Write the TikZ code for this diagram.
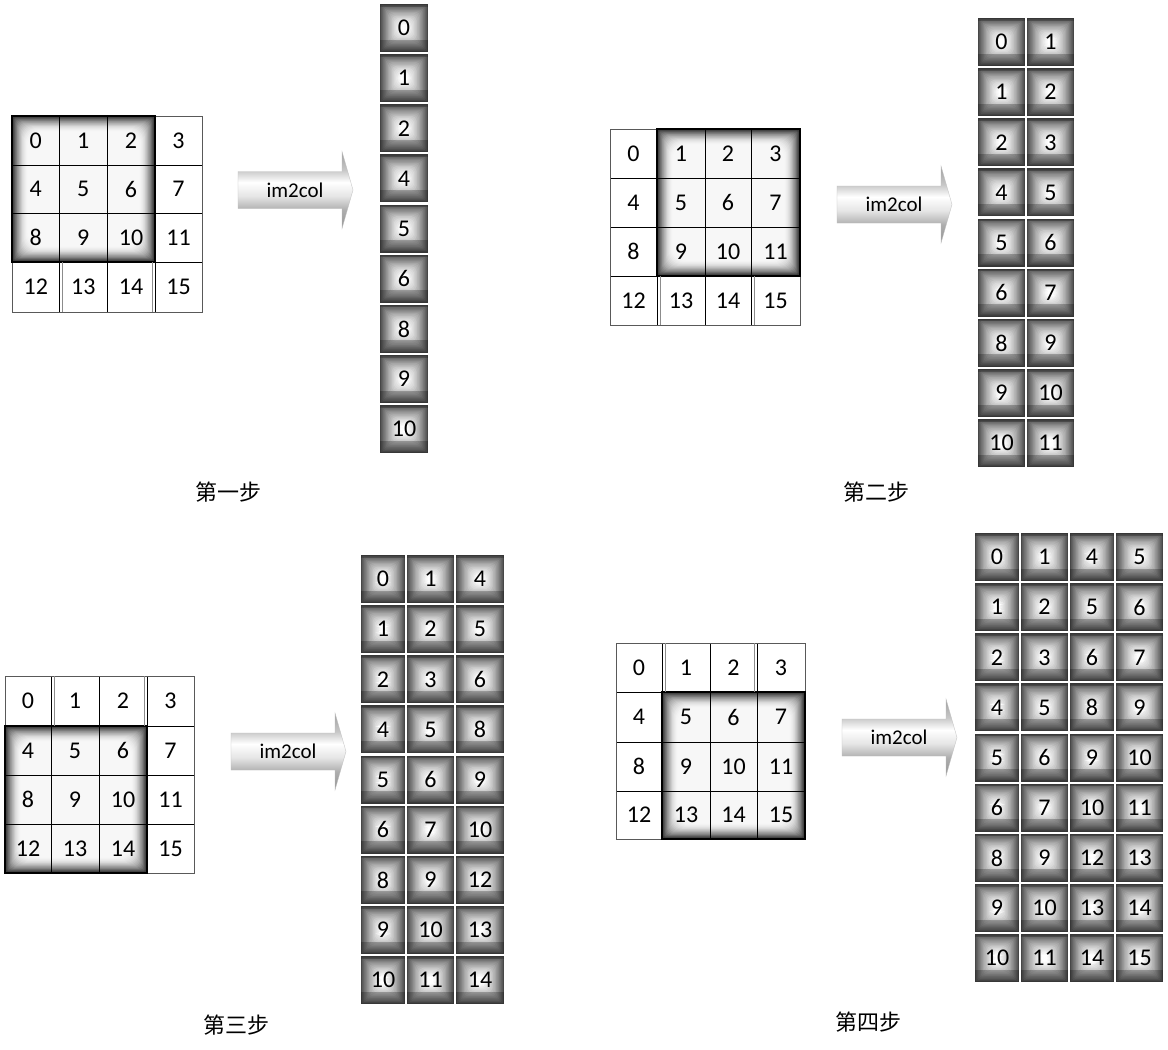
\documentclass[tikz,border=0pt]{standalone}
\usepackage{fontspec}
\newfontfamily\numfont{Carlito}
\newfontfamily\cjk{Noto Sans CJK SC}
% tikz maps the path bounding box onto the central 25bp..75bp of a shading
\pgfdeclareverticalshading{arrowsh}{100bp}{color(0bp)=(black!42); color(25bp)=(black!42); color(37bp)=(black!32); color(46bp)=(black!10); color(55bp)=(white); color(63bp)=(black!22); color(75bp)=(black!38); color(100bp)=(black!38)}
\tikzset{
  gcell/.style={inner sep=0pt, font=\numfont\fontsize{24}{24}\selectfont, text=black},
  ccell/.style={minimum height=48pt, inner sep=0pt, fill=black!72,
    font=\numfont\fontsize{24}{24}\selectfont, text=black,
    path picture={
      \foreach \k in {1,...,18}{%
        \pgfmathtruncatemacro\cv{round(70*(1-\k/18)^1.4)}%
        \fill[black!\cv, rounded corners={\k*0.5pt}] ([xshift={\k*1.15pt}, yshift={-\k*1.15pt}]path picture bounding box.north west) rectangle ([xshift={-\k*1.15pt}, yshift={\k*1.15pt}]path picture bounding box.south east);
      }
      \fill[black,opacity=.22] (path picture bounding box.north west) rectangle ([yshift=-2.5pt]path picture bounding box.north east);
      \fill[black,opacity=.24] ([yshift=12.5pt]path picture bounding box.south west) rectangle (path picture bounding box.south east);
    }},
  gline/.style={draw=black, line width=0.9pt},
  goutline/.style={draw=black!65, line width=0.9pt},
  hline/.style={draw=black, line width=1.2pt},
  dline/.style={draw=black!45, line width=0.6pt},
  arrowbody/.style={shading=arrowsh, draw=black!25, line width=0.3pt},
  arrowlabel/.style={font=\numfont\fontsize{21}{21}\selectfont, text=black},
  steplabel/.style={font=\cjk\fontsize{22}{22}\selectfont, text=black},
}
% vignette: x1 y1 x2 y2
\newcommand\myvignette[4]{%
  \foreach \k in {0,...,18}{%
    \pgfmathtruncatemacro\cv{round(3+80*(1-\k/18)^1.7)}%
    \fill[black!\cv, rounded corners={\k*0.85pt}] ({#1+\k*0.85},{#2+\k*0.85}) rectangle ({#3-\k*0.85},{#4-\k*0.85});
  }}
% grid: prefix, xs, ys, highlight col start, highlight row start
\newcommand\mygrid[5]{%
  \def\gx{#2}\def\gy{#3}%
  \pgfmathsetmacro\xa{\gx[0]}\pgfmathsetmacro\xe{\gx[4]}%
  \pgfmathsetmacro\ya{\gy[0]}\pgfmathsetmacro\ye{\gy[4]}%
  \pgfmathtruncatemacro\ia{#4}\pgfmathtruncatemacro\ib{#4+3}%
  \pgfmathtruncatemacro\ja{#5}\pgfmathtruncatemacro\jb{#5+3}%
  \pgfmathsetmacro\hxa{\gx[\ia]}\pgfmathsetmacro\hxb{\gx[\ib]}%
  \pgfmathsetmacro\hya{\gy[\ja]}\pgfmathsetmacro\hyb{\gy[\jb]}%
  \fill[white] (\xa,\ya) rectangle (\xe,\ye);
  \myvignette{\hxa}{\hya}{\hxb}{\hyb}
  \foreach \rr in {0,...,3}{\foreach \cc in {0,...,3}{%
    \pgfmathtruncatemacro\cn{\cc+1}\pgfmathtruncatemacro\rn{\rr+1}%
    \pgfmathsetmacro\xl{\gx[\cc]}\pgfmathsetmacro\xr{\gx[\cn]}%
    \pgfmathsetmacro\yt{\gy[\rr]}\pgfmathsetmacro\yb{\gy[\rn]}%
    \pgfmathsetmacro\cx{(\xl+\xr)/2}%
    \pgfmathsetmacro\cy{(\yt+\yb)/2}%
    \pgfmathtruncatemacro\n{4*\rr+\cc}%
    \node[gcell] (#1\n) at (\cx,\cy) {\n};
  }}
  \foreach \i in {1,2,3}{%
    \pgfmathsetmacro\xx{\gx[\i]}\pgfmathsetmacro\yy{\gy[\i]}%
    \draw[gline] (\xx,\ya) -- (\xx,\ye);
    \draw[gline] (\xa,\yy) -- (\xe,\yy);
  }
  \draw[goutline] (\xa,\ya) rectangle (\xe,\ye);
  \draw[hline] (\hxa,\hya) rectangle (\hxb,\hyb);
}
% column: prefix, boundaries, last col index, offsets, top y
\newcommand\mycol[5]{%
  \def\bx{#2}\def\offs{#4}%
  \foreach \rr in {0,...,8}{\foreach \cc in {0,...,#3}{%
    \pgfmathtruncatemacro\cn{\cc+1}%
    \pgfmathtruncatemacro\base{4*int(\rr/3)+mod(\rr,3)}%
    \pgfmathtruncatemacro\off{\offs[\cc]}%
    \pgfmathtruncatemacro\v{\base+\off}%
    \pgfmathsetmacro\xl{\bx[\cc]}\pgfmathsetmacro\xr{\bx[\cn]}%
    \pgfmathsetmacro\cx{(\xl+\xr)/2}%
    \pgfmathsetmacro\w{\xr-\xl-2}%
    \pgfmathsetmacro\cy{#5+25+50.15*\rr}%
    \node[ccell, minimum width=\w pt] (#1-\rr-\cc) at (\cx,\cy) {\v};
  }}}
% arrow: name, left x, center y
\newcommand\imarrow[3]{%
  \path[arrowbody] ({#2},{#3-18.5}) -- ({#2+104},{#3-18.5}) -- ({#2+104},{#3-38.5}) -- ({#2+115},{#3}) -- ({#2+104},{#3+38.5}) -- ({#2+104},{#3+18.5}) -- ({#2},{#3+18.5}) -- cycle;
  \node[arrowlabel] (#1) at ({#2+57},{#3}) {im2col};
}
\begin{document}
\begin{tikzpicture}[x=1pt,y=-1pt]
\useasboundingbox[fill=white] (0,0) rectangle (1168,1050);

% ---- step 1 ----
\mygrid{a}{{12,59.5,107,155,202}}{{116,165,213.5,262,312}}{0}{0}
\draw[dline] (62,262) -- (62,312);
\draw[dline] (152,262) -- (152,312);
\imarrow{arr1}{238}{190}
\mycol{c1}{{379,429}}{0}{{0}}{3}
\node[steplabel] (lab1) at (228,492) {第一步};

% ---- step 2 ----
\mygrid{b}{{610,657,705,751,800}}{{129,178,227,276,325}}{1}{0}
\draw[dline] (660,276) -- (660,325);
\draw[dline] (754,276) -- (754,325);
\imarrow{arr2}{837}{204.5}
\mycol{c2}{{977,1026,1075}}{1}{{0,1}}{17}
\node[steplabel] (lab2) at (876,492) {第二步};

% ---- step 3 ----
\mygrid{c}{{5,51,99,147,194}}{{676,726,775,824,873}}{0}{1}
\draw[dline] (54,676) -- (54,726);
\draw[dline] (144,676) -- (144,726);
\imarrow{arr3}{231}{751.5}
\mycol{c3}{{360,406,455,505}}{2}{{0,1,4}}{554}
\node[steplabel] (lab3) at (236,1025) {第三步};

% ---- step 4 ----
\mygrid{d}{{616,662,710,757,805}}{{643,692,742,791,839}}{1}{1}
\draw[dline] (665,643) -- (665,692);
\draw[dline] (754,643) -- (754,692);
\imarrow{arr4}{842}{737.5}
\mycol{c4}{{974,1020,1069,1115,1164}}{3}{{0,1,4,5}}{532}
\node[steplabel] (lab4) at (868,1022) {第四步};
\end{tikzpicture}
\end{document}
